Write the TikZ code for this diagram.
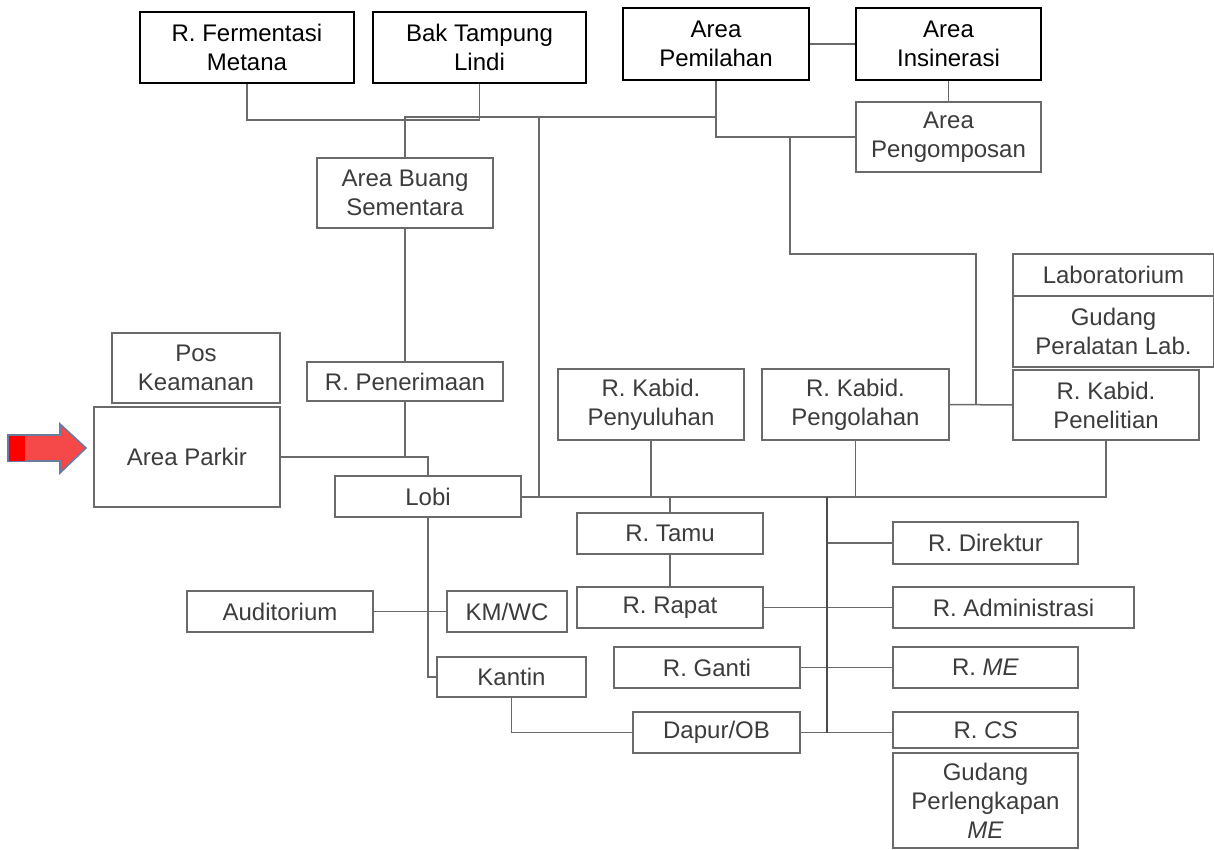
\documentclass[tikz,border=0pt]{standalone}
\usepackage{fontspec}
\setmainfont{Liberation Sans}
\usepackage{tikz}

\definecolor{ln}{HTML}{6A6A6A}
\definecolor{txt}{HTML}{3C3C3C}
\definecolor{arrowred}{HTML}{F54848}
\definecolor{arrowedge}{HTML}{6A7BA0}

\begin{document}
\begin{tikzpicture}[x=0.5pt,y=-0.5pt,
        box/.style={draw=ln, line width=0.65pt, text=txt, align=center, inner sep=0pt,
            font=\fontsize{12}{14.5}\selectfont},
        topbox/.style={box, draw=black, line width=0.85pt, text=black},
        link/.style={draw=ln, line width=0.75pt},
        busline/.style={draw=black!70, line width=1.3pt}]
        \useasboundingbox (0,0) rectangle (1214,850);
        % top row
        \node[topbox, minimum width=107pt, minimum height=35.5pt] (ferm) at (247,47.5) {R. Fermentasi\\Metana};
        \node[topbox, minimum width=106.5pt, minimum height=35.5pt] (bak) at (479.5,47.5) {Bak Tampung\\Lindi};
        \node[topbox, minimum width=93pt, minimum height=36pt] (pilah) at (716,44) {Area\\Pemilahan};
        \node[topbox, minimum width=92.5pt, minimum height=36pt] (insin) at (948.5,44) {Area\\Insinerasi};
        \node[box, minimum width=92.5pt, minimum height=35pt] (kompos) at (948.5,137) {Area\\Pengomposan};
        \node[box, minimum width=88pt, minimum height=35pt] (buang) at (405,193) {Area Buang\\Sementara};
        % left side
        \node[box, minimum width=98pt, minimum height=19.5pt] (terima) at (405,381.5) {R. Penerimaan};
        \node[box, minimum width=84pt, minimum height=35pt] (pos) at (196,368) {Pos\\Keamanan};
        \node[box, minimum width=93pt, minimum height=50pt] (parkir) at (187,457) {Area Parkir};
        \node[box, minimum width=93pt, minimum height=20.5pt] (lobi) at (428,496.5) {Lobi};
        \node[box, minimum width=93pt, minimum height=20.5pt] (audit) at (280,611.5) {Auditorium};
        \node[box, minimum width=60pt, minimum height=20.5pt] (kmwc) at (507,611.5) {KM/WC};
        \node[box, minimum width=74.5pt, minimum height=20pt] (kantin) at (511.5,677) {Kantin};
        % kabid row
        \node[box, minimum width=93pt, minimum height=35.5pt] (suluh) at (651,404.5) {R. Kabid.\\Penyuluhan};
        \node[box, minimum width=93.5pt, minimum height=35.5pt] (olah) at (855.5,404.5) {R. Kabid.\\Pengolahan};
        \node[box, minimum width=93pt, minimum height=35pt] (teliti) at (1106,405) {R. Kabid.\\Penelitian};
        \node[box, minimum width=100.5pt, minimum height=21pt] (lab) at (1113.5,275) {Laboratorium};
        \node[box, minimum width=100.5pt, minimum height=35.5pt] (gudlab) at (1113.5,331.5) {Gudang\\Peralatan Lab.};
        % middle
        \node[box, minimum width=93pt, minimum height=20.5pt] (tamu) at (670,533.5) {R. Tamu};
        \node[box, minimum width=93pt, minimum height=20.5pt] (rapat) at (670,607.5) {R. Rapat};
        \node[box, minimum width=93pt, minimum height=20.5pt] (ganti) at (707,667.5) {R. Ganti};
        \node[box, minimum width=83.5pt, minimum height=20.5pt] (dapur) at (716.5,732.5) {Dapur/OB};
        % right column
        \node[box, minimum width=92.5pt, minimum height=21pt] (direktur) at (985.5,543) {R. Direktur};
        \node[box, minimum width=120.5pt, minimum height=20.5pt] (admin) at (1013.5,607.5) {R. Administrasi};
        \node[box, minimum width=92.5pt, minimum height=20.5pt] (me) at (985.5,667.5) {R. \textit{ME}};
        \node[box, minimum width=92.5pt, minimum height=18pt] (cs) at (985.5,730) {R. \textit{CS}};
        \node[box, minimum width=92.5pt, minimum height=47.5pt] (gudme) at (985.5,800.5) {Gudang\\Perlengkapan\\\textit{ME}};

        % junctions
        \coordinate (j1) at (539,117);
        \coordinate (j2) at (539,496.5);
        \coordinate (k1) at (790,137);
        \coordinate (k2) at (976,254);
        \coordinate (bustop) at (827,496.5);

        % connectors, top
        \draw[link] (ferm.south) -- (ferm.south |- 0,120) -- (bak.south |- 0,120) -- (bak.south);
        \draw[link] (pilah.south) |- (kompos.west);
        \draw[link] (pilah.south |- j1) -- (buang.north |- j1) -- (buang.north);
        \draw[link] (pilah.east) -- (insin.west);
        \draw[link] (insin.south) -- (kompos.north);
        \draw[link] (j1) -- (j2);
        \draw[link] (k1) |- (k2) -- (k2 |- olah.east);
        \draw[link] (olah.east) -- (teliti.west);
        % connectors, left
        \draw[link] (buang.south) -- (terima.north);
        \draw[link] (terima.south) -- (terima.south |- parkir.east);
        \draw[link] (parkir.east) -| (lobi.north);
        \draw[link] (lobi.south) |- (kantin.west);
        \draw[link] (audit.east) -- (kmwc.west);
        \draw[link] (kantin.south) |- (dapur.west);
        % connectors, main line and bus
        \draw[link, line width=1pt] (lobi.east) -- (teliti.south |- lobi.east) -- (teliti.south);
        \draw[link] (suluh.south) -- (suluh.south |- lobi.east);
        \draw[link] (olah.south) -- (olah.south |- lobi.east);
        \draw[link] (tamu.north |- lobi.east) -- (tamu.north);
        \draw[link] (tamu.south) -- (rapat.north);
        \draw[link] (rapat.east) -- (admin.west);
        \draw[link] (bustop |- direktur.west) -- (direktur.west);
        \draw[link] (ganti.east) -- (me.west);
        \draw[link] (dapur.east) -- (cs.west |- dapur.east);
        \draw[busline] (bustop) -- (bustop |- dapur.east);

        % entrance arrow
        \draw[arrowedge, line width=0.8pt, fill=arrowred]
            (8,435) -- (60,435) -- (60,424) -- (86,448) -- (60,473) -- (60,461) -- (8,461) -- cycle;
        \fill[red] (8.5,435.5) rectangle (25,460.5);
    \end{tikzpicture}
\end{document}
